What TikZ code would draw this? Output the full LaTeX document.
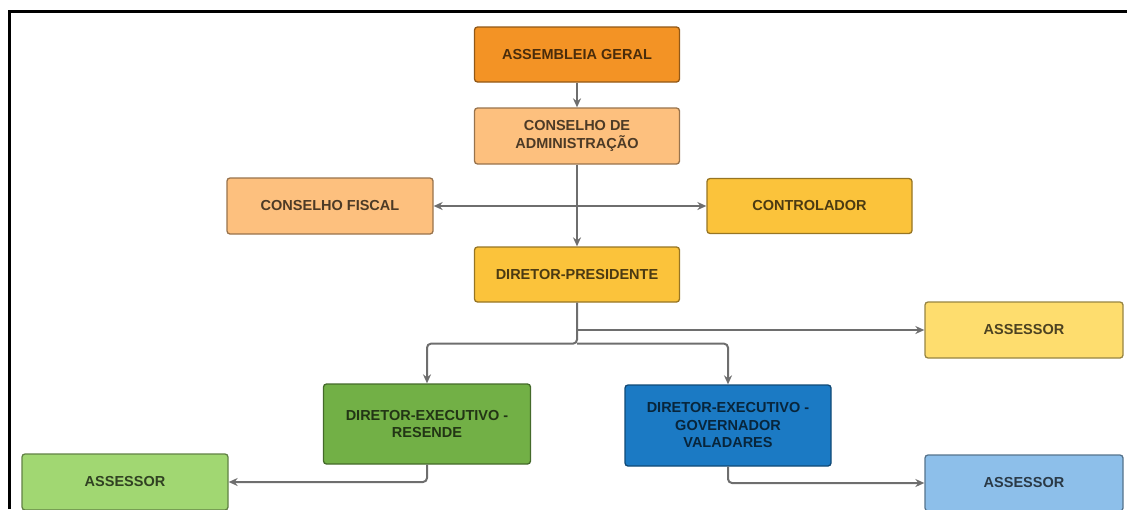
\documentclass[tikz,border=0pt]{standalone}
\usepackage{fontspec}
\setmainfont{Liberation Sans}
\usetikzlibrary{arrows.meta,
  calc,
  positioning
}

\definecolor{assembleia}{HTML}{F39325}
\definecolor{conselho}{HTML}{FDC07E}
\definecolor{diretor}{HTML}{FBC33B}
\definecolor{assessorA}{HTML}{FEDD6E}
\definecolor{resende}{HTML}{72B046}
\definecolor{assessorB}{HTML}{A1D772}
\definecolor{valadares}{HTML}{1B7AC4}
\definecolor{assessorC}{HTML}{8DBFEA}
\definecolor{linkgray}{HTML}{6E6E6E}

\begin{document}
\begin{tikzpicture}[x=1pt, y=-1pt,
  orgbox/.style={rectangle, rounded corners=3, line width=1.3,
    draw=#1!60!black, fill=#1, text=#1!30!black,
    minimum width=205, minimum height=55, align=center,
    font=\fontsize{14.5}{17.5}\selectfont\bfseries},
  link/.style={->, >={Stealth[length=9pt, width=8pt]}, line width=2,
    draw=linkgray, rounded corners=4}]

  \useasboundingbox (0, 0) rectangle (1127, 509);

  \draw[line width=3] (9.5, 509) -- (9.5, 11.5) -- (1127, 11.5);

  \node[orgbox=assembleia] (AG) at (577, 54.5) {ASSEMBLEIA GERAL};
  \node[orgbox=conselho, minimum height=56] (CA) at (577, 136)
  {CONSELHO DE\\ADMINISTRAÇÃO};
  \node[orgbox=conselho, minimum width=206, minimum height=56] (CF) at (330, 206)
  {CONSELHO FISCAL};
  \node[orgbox=diretor] (CT) at (809.5, 206) {CONTROLADOR};
  \node[orgbox=diretor] (DP) at (577, 274.5) {DIRETOR-PRESIDENTE};
  \node[orgbox=assessorA, minimum width=198, minimum height=56] (AS1) at (1024, 330)
  {ASSESSOR};
  \node[orgbox=resende, minimum width=207, minimum height=80] (DER) at (427, 424)
  {DIRETOR-EXECUTIVO -\\RESENDE};
  \node[orgbox=valadares, minimum width=206, minimum height=81] (DEG) at (728, 425.5)
  {DIRETOR-EXECUTIVO -\\GOVERNADOR\\VALADARES};
  \node[orgbox=assessorB, minimum width=206, minimum height=56] (AS2) at (125, 482)
  {ASSESSOR};
  \node[orgbox=assessorC, minimum width=198, minimum height=56] (AS3) at (1024, 483)
  {ASSESSOR};

  \coordinate (hub) at (CA.south |- CF.east);
  \coordinate (split) at ($(DP.south) + (0, 41)$);

  \draw[link] (AG) -- (CA);
  \draw[link] (CA) -- (DP);
  \draw[link] (hub) -- (CF);
  \draw[link] (hub) -- (CT);

  \draw[link, sharp corners] (DP.south) |- (AS1);
  \draw[link] (DP.south) -- (split) -| (DER);
  \draw[link] (split) -| (DEG);

  \draw[link] (DER) |- (AS2);
  \draw[link] (DEG) |- (AS3);
\end{tikzpicture}
\end{document}
